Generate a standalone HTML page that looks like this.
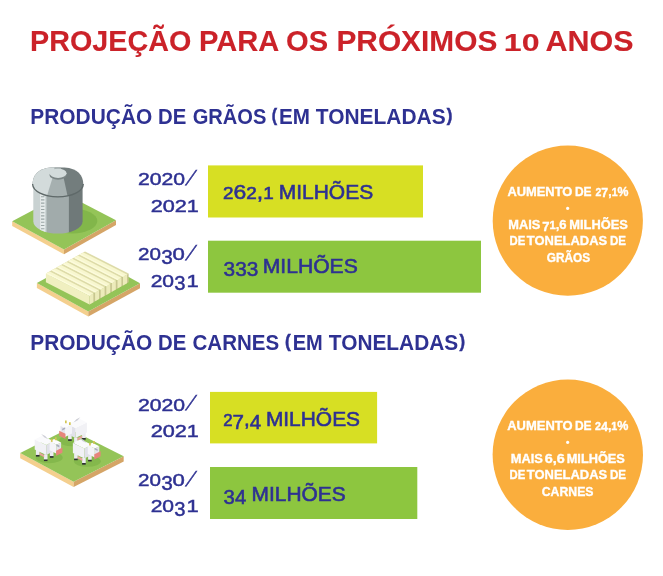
<!DOCTYPE html>
<html lang="pt-BR">
<head>
<meta charset="utf-8">
<title>Projeção para os próximos 10 anos</title>
<style>
  html, body { margin: 0; padding: 0; background: #ffffff; }
  body { width: 663px; height: 576px; overflow: hidden; }
  svg { display: block; }
  text { font-family: "Liberation Sans", sans-serif; }
  .title { font-weight: bold; font-size: 30.2px; fill: #cb2229; stroke: #cb2229; stroke-width: 0.1px; }
  .head  { font-weight: bold; font-size: 21.3px; fill: #2e3192; }
  .year  { font-family: "DejaVu Sans", "Liberation Sans", sans-serif; font-size: 16.5px; fill: #2e3192; stroke: #2e3192; stroke-width: 0.45px; }
  .val   { font-size: 20.5px; fill: #2e3192; stroke: #2e3192; stroke-width: 0.6px; }
  .val .ox { font-size: 16.8px; }
  .circ  { font-weight: bold; font-size: 12.4px; fill: #ffffff; stroke: #ffffff; stroke-width: 0.35px; }
  .circ .cx { font-size: 10.6px; }
</style>
</head>
<body>
<svg width="663" height="576" viewBox="0 0 663 576">
  <rect x="0" y="0" width="663" height="576" fill="#ffffff"/>

  <!-- TITLE -->
  <g class="title" id="title">
    <text id="t0" x="30.1" y="50.9" textLength="161.2" lengthAdjust="spacingAndGlyphs">PROJEÇÃO</text>
    <text id="t1" x="198.9" y="50.9" textLength="80.3" lengthAdjust="spacingAndGlyphs">PARA</text>
    <text id="t2" x="286" y="50.9" textLength="42.1" lengthAdjust="spacingAndGlyphs">OS</text>
    <text id="t3" x="336.45" y="50.9" textLength="160.85" lengthAdjust="spacingAndGlyphs">PRÓXIMOS</text>
    <text id="t4" x="503.8" y="50.9" textLength="35.75" lengthAdjust="spacingAndGlyphs" font-size="24.6">10</text>
    <text id="t5" x="545.55" y="50.9" textLength="88.05" lengthAdjust="spacingAndGlyphs">ANOS</text>
  </g>

  <!-- HEADING 1 -->
  <g class="head" id="head1">
    <text id="t6" x="30.3" y="123.9" textLength="122" lengthAdjust="spacingAndGlyphs">PRODUÇÃO</text>
    <text id="t7" x="158.1" y="123.9" textLength="28.3" lengthAdjust="spacingAndGlyphs">DE</text>
    <text id="t8" x="192.65" y="123.9" textLength="73.75" lengthAdjust="spacingAndGlyphs">GRÃOS</text>
    <text id="t9p" x="271.75" y="120.7" font-size="17.6" style="stroke:#2e3192;stroke-width:0.5px" textLength="5.3" lengthAdjust="spacingAndGlyphs">(</text>
    <text id="t9" x="279.05" y="123.9" textLength="30.95" lengthAdjust="spacingAndGlyphs">EM</text>
    <text id="t10" x="315.8" y="123.9" textLength="129.8" lengthAdjust="spacingAndGlyphs">TONELADAS</text>
    <text id="t10p" x="446.75" y="120.7" font-size="17.6" style="stroke:#2e3192;stroke-width:0.5px" textLength="5.6" lengthAdjust="spacingAndGlyphs">)</text>
  </g>

  <!-- HEADING 2 -->
  <g class="head" id="head2">
    <text id="t11" x="30.3" y="350.1" textLength="122" lengthAdjust="spacingAndGlyphs">PRODUÇÃO</text>
    <text id="t12" x="158.1" y="350.1" textLength="28.3" lengthAdjust="spacingAndGlyphs">DE</text>
    <text id="t13" x="192.55" y="350.1" textLength="86.7" lengthAdjust="spacingAndGlyphs">CARNES</text>
    <text id="t14p" x="285.05" y="346.9" font-size="17.6" style="stroke:#2e3192;stroke-width:0.5px" textLength="5.7" lengthAdjust="spacingAndGlyphs">(</text>
    <text id="t14" x="292.75" y="350.1" textLength="30.05" lengthAdjust="spacingAndGlyphs">EM</text>
    <text id="t15" x="328.8" y="350.1" textLength="129.45" lengthAdjust="spacingAndGlyphs">TONELADAS</text>
    <text id="t15p" x="459.6" y="346.9" font-size="17.6" style="stroke:#2e3192;stroke-width:0.5px" textLength="5.55" lengthAdjust="spacingAndGlyphs">)</text>
  </g>

  <!-- BARS -->
  <rect x="208" y="165.4" width="215" height="52.1" fill="#d7df23"/>
  <rect x="208" y="240.7" width="273" height="52" fill="#8dc63f"/>
  <rect x="210" y="391.9" width="167.1" height="51.5" fill="#d7df23"/>
  <rect x="210" y="467" width="207.3" height="52" fill="#8dc63f"/>

  <!-- CIRCLES -->
  <circle cx="567.8" cy="220.7" r="75.1" fill="#faae3d"/>
  <circle cx="567.8" cy="454.7" r="75.2" fill="#faae3d"/>

  <!-- YEAR LABELS -->
  <g class="year" id="years">
    <text id="t16" x="137.95" y="185.1" textLength="47.1" lengthAdjust="spacingAndGlyphs">2020</text>
    <text id="s16" x="0.7" y="0" transform="translate(184.6,184.6) skewX(-26.5)" font-size="20.5" style="stroke-width:0.7px" textLength="4.35" lengthAdjust="spacingAndGlyphs">/</text>
    <text id="t17" x="150.65" y="211.7" textLength="48.15" lengthAdjust="spacingAndGlyphs">2021</text>
    <text id="t18" x="138.1" y="260.1" textLength="22.95" lengthAdjust="spacingAndGlyphs">20</text>
    <text id="t18b" x="161.2" y="263.6" font-size="20.2" textLength="11.55" lengthAdjust="spacingAndGlyphs">3</text>
    <text id="t18c" x="172.5" y="260.1" textLength="12.3" lengthAdjust="spacingAndGlyphs">0</text>
    <text id="s18" x="0.7" y="0" transform="translate(184.6,259.6) skewX(-26.5)" font-size="20.5" style="stroke-width:0.7px" textLength="4.35" lengthAdjust="spacingAndGlyphs">/</text>
    <text id="t19" x="150.65" y="286.5" textLength="23.45" lengthAdjust="spacingAndGlyphs">20</text>
    <text id="t19b" x="174.2" y="290.0" font-size="20.2" textLength="11.25" lengthAdjust="spacingAndGlyphs">3</text>
    <text id="t19c" x="186.55" y="286.5" textLength="12.25" lengthAdjust="spacingAndGlyphs">1</text>
    <text id="t20" x="137.95" y="410.5" textLength="47.1" lengthAdjust="spacingAndGlyphs">2020</text>
    <text id="s20" x="0.7" y="0" transform="translate(184.6,410.0) skewX(-26.5)" font-size="20.5" style="stroke-width:0.7px" textLength="4.35" lengthAdjust="spacingAndGlyphs">/</text>
    <text id="t21" x="150.65" y="436.9" textLength="48.15" lengthAdjust="spacingAndGlyphs">2021</text>
    <text id="t22" x="138.1" y="486.0" textLength="22.95" lengthAdjust="spacingAndGlyphs">20</text>
    <text id="t22b" x="161.2" y="489.5" font-size="20.2" textLength="11.55" lengthAdjust="spacingAndGlyphs">3</text>
    <text id="t22c" x="172.5" y="486.0" textLength="12.3" lengthAdjust="spacingAndGlyphs">0</text>
    <text id="s22" x="0.7" y="0" transform="translate(184.6,485.5) skewX(-26.5)" font-size="20.5" style="stroke-width:0.7px" textLength="4.35" lengthAdjust="spacingAndGlyphs">/</text>
    <text id="t23" x="150.65" y="512.4" textLength="23.45" lengthAdjust="spacingAndGlyphs">20</text>
    <text id="t23b" x="174.2" y="515.9" font-size="20.2" textLength="11.25" lengthAdjust="spacingAndGlyphs">3</text>
    <text id="t23c" x="186.55" y="512.4" textLength="12.25" lengthAdjust="spacingAndGlyphs">1</text>
  </g>

  <!-- BAR VALUES -->
  <g class="val" id="vals">
    <text id="t24" x="223.1" y="198.9" textLength="50.55" lengthAdjust="spacingAndGlyphs"><tspan class="ox">2</tspan>6<tspan class="ox">2</tspan>,<tspan class="ox">1</tspan></text>
    <text id="t25" x="278.7" y="198.9" textLength="94.5" lengthAdjust="spacingAndGlyphs">MILHÕES</text>
    <text id="t26" x="223.6" y="276.2" textLength="34.65" lengthAdjust="spacingAndGlyphs">333</text>
    <text id="t27" x="262.75" y="273.1" textLength="95.05" lengthAdjust="spacingAndGlyphs">MILHÕES</text>
    <text id="t28" x="223.25" y="425.6" textLength="37.8" lengthAdjust="spacingAndGlyphs"><tspan class="ox">2</tspan><tspan dy="3">7</tspan><tspan dy="-3">,</tspan><tspan dy="3">4</tspan></text>
    <text id="t29" x="265.9" y="425.6" textLength="94.15" lengthAdjust="spacingAndGlyphs">MILHÕES</text>
    <text id="t30" x="223.6" y="504.4" textLength="22.6" lengthAdjust="spacingAndGlyphs">34</text>
    <text id="t31" x="251.6" y="501.3" textLength="94.15" lengthAdjust="spacingAndGlyphs">MILHÕES</text>
  </g>

  <!-- CIRCLE TEXT -->
  <g class="circ" id="circ">
    <text id="c0" x="507.45" y="195.6" textLength="64.9" lengthAdjust="spacingAndGlyphs">AUMENTO</text>
    <text id="c1" x="574.95" y="195.6" textLength="16.65" lengthAdjust="spacingAndGlyphs">DE</text>
    <text id="c2" x="595.5" y="195.6" textLength="33" lengthAdjust="spacingAndGlyphs"><tspan class="cx">2</tspan><tspan dy="1.8">7</tspan><tspan dy="-1.8">,</tspan><tspan class="cx">1</tspan>%</text>
    <text id="c3" x="508.25" y="228.9" textLength="32" lengthAdjust="spacingAndGlyphs">MAIS</text>
    <text id="c4" x="542.2" y="228.9" textLength="24.4" lengthAdjust="spacingAndGlyphs"><tspan dy="1.8">7</tspan><tspan dy="-1.8" class="cx">1</tspan>,6</text>
    <text id="c5" x="569.25" y="228.9" textLength="58.6" lengthAdjust="spacingAndGlyphs">MILHÕES</text>
    <text id="c6" x="509.5" y="245.3" textLength="15.75" lengthAdjust="spacingAndGlyphs">DE</text>
    <text id="c7" x="526.85" y="245.3" textLength="80.3" lengthAdjust="spacingAndGlyphs">TONELADAS</text>
    <text id="c8" x="610" y="245.3" textLength="16.05" lengthAdjust="spacingAndGlyphs">DE</text>
    <text id="c9" x="546.75" y="262" textLength="43.5" lengthAdjust="spacingAndGlyphs">GRÃOS</text>
    <text id="c10" x="507.25" y="429.6" textLength="65.25" lengthAdjust="spacingAndGlyphs">AUMENTO</text>
    <text id="c11" x="574.95" y="429.6" textLength="16.65" lengthAdjust="spacingAndGlyphs">DE</text>
    <text id="c12" x="594.95" y="429.6" textLength="33.5" lengthAdjust="spacingAndGlyphs"><tspan class="cx">2</tspan><tspan dy="1.8">4</tspan><tspan dy="-1.8">,</tspan><tspan class="cx">1</tspan>%</text>
    <text id="c13" x="510.75" y="462.9" textLength="32.1" lengthAdjust="spacingAndGlyphs">MAIS</text>
    <text id="c14" x="544.75" y="462.9" textLength="20" lengthAdjust="spacingAndGlyphs">6,6</text>
    <text id="c15" x="566.7" y="462.9" textLength="58.2" lengthAdjust="spacingAndGlyphs">MILHÕES</text>
    <text id="c16" x="509.5" y="479.3" textLength="15.75" lengthAdjust="spacingAndGlyphs">DE</text>
    <text id="c17" x="526.85" y="479.3" textLength="80.3" lengthAdjust="spacingAndGlyphs">TONELADAS</text>
    <text id="c18" x="609.9" y="479.3" textLength="16.15" lengthAdjust="spacingAndGlyphs">DE</text>
    <text id="c19" x="541.75" y="495.8" textLength="51.75" lengthAdjust="spacingAndGlyphs">CARNES</text>
    <text id="b1" x="565.8" y="211.5" font-size="11" style="stroke-width:0">•</text>
    <text id="b2" x="565.8" y="445.5" font-size="11" style="stroke-width:0">•</text>
  </g>

  <!-- ILLUSTRATIONS -->
  <g id="silo">
    <!-- tile -->
    <polygon points="12.2,221.2 64,249.6 64,254.3 12.2,225.9" fill="#f4cf8e"/>
    <polygon points="116,220.2 64,249.6 64,254.3 116,224.9" fill="#d5a567"/>
    <polygon points="12.2,221.2 64.5,193.5 116,220.2 64,249.6" fill="#94c458"/>
    <!-- shadow -->
    <ellipse cx="72.5" cy="221" rx="24.8" ry="12.4" fill="#82b64a"/>
    <!-- body -->
    <clipPath id="siloBody"><path d="M33.3,183 L33.3,221.3 A24.65,12.3 0 0 0 82.6,221.3 L82.6,183 Z"/></clipPath>
    <g clip-path="url(#siloBody)">
      <rect x="33" y="180" width="14" height="56" fill="#c9d2d2"/>
      <rect x="46.5" y="180" width="23" height="56" fill="#a1abab"/>
      <rect x="68.9" y="180" width="15" height="56" fill="#6f7979"/>
      <!-- ladder -->
      <rect x="40.2" y="188" width="5" height="44" fill="#e6ecec"/>
      <path d="M41,193.5h3.4M41,196.7h3.4M41,199.9h3.4M41,203.1h3.4M41,206.3h3.4M41,209.5h3.4M41,212.7h3.4M41,215.9h3.4M41,219.1h3.4M41,222.3h3.4M41,225.5h3.4M41,228.7h3.4" stroke="#9aa5a5" stroke-width="1.1" fill="none"/>
    </g>
    <!-- roof -->
    <clipPath id="siloRoof"><path d="M32.6,184 C32.6,175.5 38.5,168.2 51.5,167.5 L64.5,167.5 C77.5,168.2 83.3,175.5 83.3,184 A25.35,12.8 0 0 1 32.6,184 Z"/></clipPath>
    <g clip-path="url(#siloRoof)">
      <rect x="30" y="165" width="56" height="34" fill="#737d7d"/>
      <polygon points="30,165 60,165 63.2,176 68,198 30,198" fill="#a6b0b0"/>
      <polygon points="30,165 55,165 52.8,177 46.3,198 30,198" fill="#d3dbdb"/>
    </g>
    <path d="M32.6,184 A25.35,12.8 0 0 0 83.3,184" fill="none" stroke="#5f6969" stroke-width="1.3"/>
    <!-- cap -->
    <ellipse cx="58.1" cy="174.9" rx="8.6" ry="4.9" fill="#7b8585"/>
    <ellipse cx="58.1" cy="173.3" rx="8.5" ry="4.6" fill="#d3dbdb"/>
  </g>
  <g id="greenhouse">
    <!-- tile -->
    <polygon points="36.9,283 88.3,311.6 88.3,316.5 36.9,287.9" fill="#f4cf8e"/>
    <polygon points="140,283.3 88.3,311.6 88.3,316.5 140,288.2" fill="#d5a567"/>
    <polygon points="36.9,283 88.3,254.8 140,283.3 88.3,311.6" fill="#94c458"/>
    <!-- walls -->
    <polygon points="45.9,273.6 89.5,295.8 89.5,304.4 45.9,282.2" fill="#f0efc0"/>
    <polygon points="89.5,295.8 128.6,273.6 128.6,282.2 89.5,304.4" fill="#c8c690"/>
    <!-- roof base -->
    <polygon points="89.5,295.8 128.6,273.6 85.0,251.4 45.9,273.6" fill="#dddba8"/>
    <polygon points="89.5,295.8 93.4,293.6 93.4,302.2 89.5,304.4" fill="#ecebba"/>
    <polygon points="89.5,295.8 93.4,293.6 49.8,271.4 45.9,273.6" fill="#f8f7cf"/>
    <polygon points="89.5,295.8 90.9,295.0 47.3,272.8 45.9,273.6" fill="#fcfbdc"/>
    <polygon points="95.1,292.6 99.0,290.4 99.0,299.0 95.1,301.2" fill="#ecebba"/>
    <polygon points="95.1,292.6 99.0,290.4 55.4,268.2 51.5,270.4" fill="#f8f7cf"/>
    <polygon points="95.1,292.6 96.5,291.8 52.9,269.6 51.5,270.4" fill="#fcfbdc"/>
    <polygon points="100.7,289.5 104.6,287.2 104.6,295.8 100.7,298.1" fill="#ecebba"/>
    <polygon points="100.7,289.5 104.6,287.2 61.0,265.0 57.1,267.3" fill="#f8f7cf"/>
    <polygon points="100.7,289.5 102.1,288.7 58.5,266.5 57.1,267.3" fill="#fcfbdc"/>
    <polygon points="106.3,286.3 110.2,284.1 110.2,292.7 106.3,294.9" fill="#ecebba"/>
    <polygon points="106.3,286.3 110.2,284.1 66.6,261.9 62.7,264.1" fill="#f8f7cf"/>
    <polygon points="106.3,286.3 107.7,285.5 64.1,263.3 62.7,264.1" fill="#fcfbdc"/>
    <polygon points="111.9,283.1 115.8,280.9 115.8,289.5 111.9,291.7" fill="#ecebba"/>
    <polygon points="111.9,283.1 115.8,280.9 72.2,258.7 68.3,260.9" fill="#f8f7cf"/>
    <polygon points="111.9,283.1 113.3,282.3 69.7,260.1 68.3,260.9" fill="#fcfbdc"/>
    <polygon points="117.5,279.9 121.4,277.7 121.4,286.3 117.5,288.6" fill="#ecebba"/>
    <polygon points="117.5,279.9 121.4,277.7 77.8,255.5 73.8,257.8" fill="#f8f7cf"/>
    <polygon points="117.5,279.9 118.8,279.2 75.2,257.0 73.8,257.8" fill="#fcfbdc"/>
    <polygon points="123.0,276.8 127.0,274.6 127.0,283.2 123.0,285.4" fill="#ecebba"/>
    <polygon points="123.0,276.8 127.0,274.6 83.4,252.4 79.4,254.6" fill="#f8f7cf"/>
    <polygon points="123.0,276.8 124.4,276.0 80.8,253.8 79.4,254.6" fill="#fcfbdc"/>
  </g>
  <g id="cows">
    <!-- tile -->
    <polygon points="20.2,453 73.6,481.8 73.6,487.1 20.2,458.3" fill="#f4cf8e"/>
    <polygon points="123.7,456.2 73.6,481.8 73.6,487.1 123.7,461.5" fill="#d5a567"/>
    <polygon points="20.2,453 68.6,428.6 123.7,456.2 73.6,481.8" fill="#94c458"/>
    <g><!-- cow A --><ellipse cx="72.4" cy="440.8" rx="13.5" ry="5.5" fill="#84b84c"/><polygon points="85.7,437.8 82.1,437.8 82.1,439.7 85.7,439.7" fill="#2d2d33"/><polygon points="77.7,442.3 74.1,442.3 74.1,444.2 77.7,444.2" fill="#2d2d33"/><polygon points="71.7,439.0 68.1,439.0 68.1,440.9 71.7,440.9" fill="#2d2d33"/><polygon points="85.7,433.0 82.1,433.0 82.1,438.0 85.7,438.0" fill="#ececf1"/><polygon points="77.7,437.5 74.1,437.5 74.1,442.5 77.7,442.5" fill="#ececf1"/><polygon points="71.7,434.2 68.1,434.2 68.1,439.2 71.7,439.2" fill="#ececf1"/><polygon points="82.1,435.5 77.4,438.0 77.4,440.4 82.1,437.9" fill="#e8a39b"/><polygon points="86.9,422.5 75.4,428.0 75.4,438.0 86.9,432.5" fill="#f1f1f5"/><polygon points="75.4,428.0 67.9,424.3 67.9,434.3 75.4,438.0" fill="#e1e1e9"/><polygon points="86.9,422.5 79.4,418.8 67.9,424.3 75.4,428.0" fill="#fafafc"/><polygon points="80.4,417.2 76.4,419.2 73.4,422.4 77.4,420.4" fill="#cdced6"/><polygon points="72.0,424.4 65.0,427.9 65.0,436.9 72.0,433.4" fill="#f4f4f8"/><polygon points="65.0,427.9 60.5,425.7 60.5,434.7 65.0,436.9" fill="#e4e4ec"/><polygon points="72.0,424.4 67.5,422.2 60.5,425.7 65.0,427.9" fill="#fcfcfe"/><polygon points="65.5,433.8 59.2,430.7 59.2,435.8 65.5,438.9" fill="#e6857b"/><polygon points="70.7,422.2 69.0,422.2 69.0,425.0 70.7,425.0" fill="#d3c653"/><polygon points="66.7,420.4 65.0,420.4 65.0,423.3 66.7,423.3" fill="#d3c653"/><polygon points="65.2,427.2 62.2,428.7 62.2,430.6 65.2,429.1" fill="#a9adbd"/></g>
    <g><!-- cow B --><ellipse cx="49.2" cy="457.7" rx="13.5" ry="5.5" fill="#84b84c"/><polygon points="35.9,454.7 39.5,454.7 39.5,456.6 35.9,456.6" fill="#2d2d33"/><polygon points="43.9,459.2 47.5,459.2 47.5,461.1 43.9,461.1" fill="#2d2d33"/><polygon points="49.9,455.9 53.5,455.9 53.5,457.8 49.9,457.8" fill="#2d2d33"/><polygon points="35.9,449.9 39.5,449.9 39.5,454.9 35.9,454.9" fill="#ececf1"/><polygon points="43.9,454.4 47.5,454.4 47.5,459.4 43.9,459.4" fill="#ececf1"/><polygon points="49.9,451.1 53.5,451.1 53.5,456.1 49.9,456.1" fill="#ececf1"/><polygon points="39.5,452.4 44.2,454.9 44.2,457.3 39.5,454.8" fill="#e8a39b"/><polygon points="34.7,439.4 46.2,444.9 46.2,454.9 34.7,449.4" fill="#f1f1f5"/><polygon points="46.2,444.9 53.7,441.2 53.7,451.2 46.2,454.9" fill="#e1e1e9"/><polygon points="34.7,439.4 42.2,435.7 53.7,441.2 46.2,444.9" fill="#fafafc"/><polygon points="41.2,434.1 45.2,436.1 48.2,439.3 44.2,437.3" fill="#cdced6"/><polygon points="49.6,441.3 56.6,444.8 56.6,453.8 49.6,450.3" fill="#f4f4f8"/><polygon points="56.6,444.8 61.1,442.6 61.1,451.6 56.6,453.8" fill="#e4e4ec"/><polygon points="49.6,441.3 54.1,439.1 61.1,442.6 56.6,444.8" fill="#fcfcfe"/><polygon points="56.1,450.7 62.4,447.6 62.4,452.7 56.1,455.8" fill="#e6857b"/><polygon points="50.9,439.1 52.6,439.1 52.6,441.9 50.9,441.9" fill="#d3c653"/><polygon points="54.9,437.3 56.6,437.3 56.6,440.2 54.9,440.2" fill="#d3c653"/><polygon points="56.4,444.1 59.4,445.6 59.4,447.5 56.4,446.0" fill="#a9adbd"/></g>
    <g><!-- cow C --><ellipse cx="87.4" cy="461.3" rx="13.5" ry="5.5" fill="#84b84c"/><polygon points="74.1,458.3 77.7,458.3 77.7,460.2 74.1,460.2" fill="#2d2d33"/><polygon points="82.1,462.8 85.7,462.8 85.7,464.7 82.1,464.7" fill="#2d2d33"/><polygon points="88.1,459.5 91.7,459.5 91.7,461.4 88.1,461.4" fill="#2d2d33"/><polygon points="74.1,453.5 77.7,453.5 77.7,458.5 74.1,458.5" fill="#ececf1"/><polygon points="82.1,458.0 85.7,458.0 85.7,463.0 82.1,463.0" fill="#ececf1"/><polygon points="88.1,454.7 91.7,454.7 91.7,459.7 88.1,459.7" fill="#ececf1"/><polygon points="77.7,456.0 82.4,458.5 82.4,460.9 77.7,458.4" fill="#e8a39b"/><polygon points="72.9,443.0 84.4,448.5 84.4,458.5 72.9,453.0" fill="#f1f1f5"/><polygon points="84.4,448.5 91.9,444.8 91.9,454.8 84.4,458.5" fill="#e1e1e9"/><polygon points="72.9,443.0 80.4,439.3 91.9,444.8 84.4,448.5" fill="#fafafc"/><polygon points="79.4,437.7 83.4,439.7 86.4,442.9 82.4,440.9" fill="#cdced6"/><polygon points="87.8,444.9 94.8,448.4 94.8,457.4 87.8,453.9" fill="#f4f4f8"/><polygon points="94.8,448.4 99.3,446.2 99.3,455.2 94.8,457.4" fill="#e4e4ec"/><polygon points="87.8,444.9 92.3,442.7 99.3,446.2 94.8,448.4" fill="#fcfcfe"/><polygon points="94.3,454.3 100.6,451.2 100.6,456.3 94.3,459.4" fill="#e6857b"/><polygon points="89.1,442.7 90.8,442.7 90.8,445.5 89.1,445.5" fill="#d3c653"/><polygon points="93.1,440.9 94.8,440.9 94.8,443.8 93.1,443.8" fill="#d3c653"/><polygon points="94.6,447.7 97.6,449.2 97.6,451.1 94.6,449.6" fill="#a9adbd"/></g>
  </g>
</svg>
</body>
</html>
